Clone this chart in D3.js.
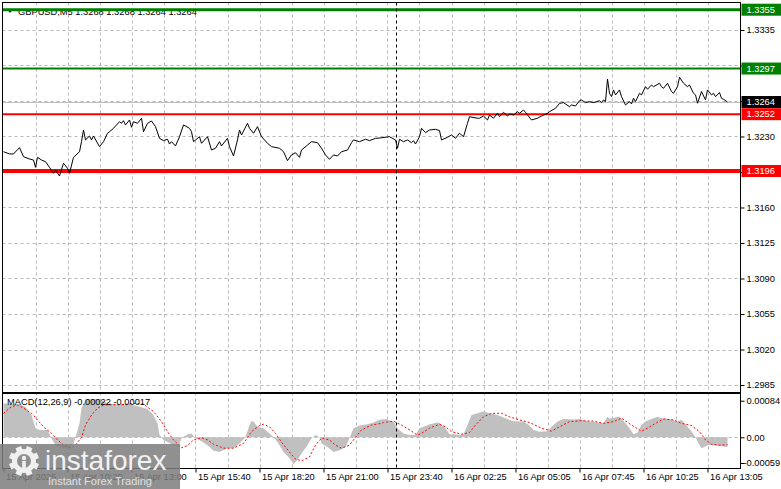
<!DOCTYPE html>
<html><head><meta charset="utf-8">
<script src="https://cdn.jsdelivr.net/npm/d3@7/dist/d3.min.js"></script>
<style>
body{margin:0;background:#fff;}
svg{display:block;}
text{font-family:"Liberation Sans",Arial,sans-serif;}
</style>
</head><body>
<svg id="c" width="781" height="489"></svg>
<script>
// ---------------- DATA ----------------
const symbolTitle = "GBPUSD,M5";
const ohlcValues = ["1.3268", "1.3268", "1.3264", "1.3264"];
const macdTitle = "MACD(12,26,9) -0.00022 -0.00017";

const priceTicks = [1.2985, 1.3020, 1.3055, 1.3090, 1.3125, 1.3160, 1.3195, 1.3230, 1.3265, 1.3300, 1.3335];
const macdTicks = [0.00084, 0.00, -0.00059];

const timeLabels = ["15 Apr 2025", "15 Apr 10:20", "15 Apr 13:00", "15 Apr 15:40", "15 Apr 18:20", "15 Apr 21:00",
  "15 Apr 23:40", "16 Apr 02:25", "16 Apr 05:05", "16 Apr 07:45", "16 Apr 10:25", "16 Apr 13:05"];
const timeLabelBars = [0, 32, 64, 96, 128, 160, 192, 224, 256, 288, 320, 352];
const daySeparatorBar = 196;

const greenLevels = [1.3355, 1.3297];
const redLevels = [1.3252, 1.3196];
const currentPrice = 1.3264;

const priceBars = [0,3,5,8,10,13,15,16,17,19,21,23,25,26,28,30,32,33,35,38,39,40,41,43,44,45,48,50,52,53,55,58,59,60,61,63,64,65,67,69,70,72,74,76,78,80,82,83,84,86,88,90,93,94,95,98,99,102,104,106,108,109,112,113,115,117,118,119,122,123,125,127,129,132,134,138,140,142,144,146,148,149,152,154,157,159,161,163,165,167,169,172,174,175,178,181,183,186,188,193,196,197,198,200,202,204,205,206,208,209,211,213,216,218,219,222,224,226,228,230,232,233,237,238,240,242,243,245,247,248,250,252,253,255,257,258,260,261,264,267,269,272,273,276,278,280,283,284,286,288,289,291,293,295,298,299,300,301,302,303,304,305,306,308,309,311,313,314,315,316,318,319,321,322,324,325,328,329,330,332,334,335,337,338,340,342,343,345,346,347,349,351,352,354,355,356,358,359,360,362];
const priceValues = [1.32150,1.32128,1.32128,1.32190,1.32101,1.32078,1.32068,1.31996,1.32095,1.32068,1.32052,1.31996,1.31937,1.31970,1.31911,1.32036,1.31987,1.31937,1.32095,1.32150,1.32249,1.32364,1.32266,1.32305,1.32266,1.32305,1.32200,1.32249,1.32332,1.32347,1.32381,1.32446,1.32430,1.32456,1.32414,1.32463,1.32391,1.32446,1.32430,1.32480,1.32347,1.32430,1.32453,1.32397,1.32282,1.32259,1.32273,1.32226,1.32249,1.32207,1.32298,1.32414,1.32381,1.32347,1.32249,1.32298,1.32233,1.32298,1.32167,1.32184,1.32249,1.32207,1.32282,1.32200,1.32108,1.32266,1.32364,1.32315,1.32430,1.32381,1.32332,1.32397,1.32298,1.32233,1.32200,1.32184,1.32150,1.32062,1.32118,1.32140,1.32095,1.32167,1.32216,1.32249,1.32239,1.32184,1.32118,1.32075,1.32118,1.32108,1.32150,1.32167,1.32239,1.32266,1.32249,1.32273,1.32259,1.32282,1.32285,1.32298,1.32266,1.32184,1.32273,1.32249,1.32266,1.32239,1.32259,1.32226,1.32298,1.32381,1.32338,1.32364,1.32371,1.32358,1.32266,1.32292,1.32315,1.32282,1.32332,1.32298,1.32430,1.32495,1.32480,1.32480,1.32502,1.32463,1.32512,1.32480,1.32529,1.32495,1.32538,1.32502,1.32522,1.32512,1.32545,1.32529,1.32561,1.32538,1.32463,1.32480,1.32502,1.32529,1.32545,1.32578,1.32627,1.32634,1.32594,1.32611,1.32601,1.32653,1.32660,1.32634,1.32644,1.32634,1.32653,1.32634,1.32660,1.32644,1.32867,1.32726,1.32693,1.32759,1.32710,1.32759,1.32693,1.32611,1.32644,1.32621,1.32677,1.32644,1.32726,1.32710,1.32791,1.32766,1.32808,1.32791,1.32825,1.32791,1.32775,1.32825,1.32743,1.32726,1.32791,1.32884,1.32825,1.32791,1.32808,1.32726,1.32710,1.32628,1.32743,1.32660,1.32759,1.32710,1.32726,1.32693,1.32733,1.32677,1.32667,1.32640];

const macdBars = [0,4,8,11,14,16,18,22,24,26,30,32,35,36,38,39,41,43,48,52,58,63,68,72,75,77,78,80,85,88,89,92,94,96,98,102,105,108,112,115,118,121,123,124,125,127,130,133,135,137,140,143,145,147,149,152,154,156,158,159,162,165,168,171,173,175,178,182,185,188,191,195,197,200,203,206,208,211,213,217,218,221,223,225,228,230,232,234,237,240,243,247,252,255,260,263,265,268,272,274,277,280,285,288,292,297,300,302,303,305,308,311,313,315,317,319,321,323,327,329,333,337,339,342,344,346,348,349,352,355,358,362];
const macdValues = [0.00078,0.00076,0.00076,0.00070,0.00051,0.00021,0.00017,0.00017,-0.00002,-0.00018,-0.00025,-0.00026,-0.00016,0.0,0.00032,0.00067,0.00086,0.00088,0.00088,0.00078,0.00074,0.00076,0.00070,0.00065,0.00051,0.00032,0.00005,-0.00006,-0.00018,-0.00015,-0.00003,0.00007,0.00009,-0.00002,-0.00006,-0.00018,-0.00031,-0.00034,-0.00025,-0.00025,-0.00014,0.0,0.00028,0.00037,0.00036,0.00024,0.00021,0.00009,0.0,-0.00011,-0.00034,-0.00048,-0.00062,-0.00052,-0.00037,-0.00018,-0.00002,0.00005,0.0,-0.00014,-0.00022,-0.00034,-0.00030,-0.00022,-0.00002,0.00021,0.00027,0.00030,0.00034,0.00040,0.00042,0.00036,0.00021,0.00009,0.00005,0.00005,0.00021,0.00026,0.00030,0.00034,0.00033,0.00021,0.00007,0.00007,0.00005,0.00007,0.00028,0.00051,0.00055,0.00059,0.00055,0.00051,0.00042,0.00037,0.00036,0.00027,0.00017,0.00013,0.00014,0.00024,0.00036,0.00042,0.00041,0.00042,0.00037,0.00034,0.00032,0.00047,0.00043,0.00045,0.00047,0.00032,0.00021,0.00007,0.00011,0.00028,0.00036,0.00040,0.00047,0.00044,0.00042,0.00036,0.00040,0.00024,0.00014,0.0,-0.00018,-0.00025,-0.00018,-0.00018,-0.00020,-0.00022];

const signalBars = [0,4,7,10,14,17,20,24,27,30,34,36,39,41,44,47,50,55,60,65,70,75,79,82,85,89,92,95,99,102,105,110,115,120,124,128,130,133,136,139,143,146,149,153,156,159,163,166,169,173,176,179,184,189,190,195,199,203,207,209,213,218,221,224,229,233,236,240,244,249,253,258,263,269,274,278,283,289,295,300,305,309,314,319,322,326,330,335,339,344,348,351,354,358,362];
const signalValues = [0.00055,0.00070,0.00074,0.00067,0.00055,0.00040,0.00024,0.00009,-0.00006,-0.00018,-0.00025,-0.00018,0.0,0.00028,0.00051,0.00067,0.00074,0.00075,0.00075,0.00078,0.00076,0.00059,0.00036,0.00013,-0.00006,-0.00024,-0.00019,-0.00006,-0.00001,-0.00006,-0.00016,-0.00025,-0.00025,-0.00014,0.00013,0.00027,0.00030,0.00024,0.00009,-0.00011,-0.00034,-0.00050,-0.00054,-0.00045,-0.00018,-0.00002,-0.00006,-0.00018,-0.00025,-0.00018,0.0,0.00017,0.00028,0.00032,0.00034,0.00037,0.00028,0.00017,0.00005,0.00009,0.00021,0.00030,0.00024,0.00013,0.00007,0.00011,0.00028,0.00047,0.00055,0.00055,0.00047,0.00040,0.00034,0.00021,0.00014,0.00024,0.00036,0.00038,0.00037,0.00032,0.00036,0.00044,0.00028,0.00014,0.00021,0.00032,0.00042,0.00040,0.00032,0.00027,0.00013,-0.00006,-0.00016,-0.00018,-0.00017];

// ---------------- LAYOUT ----------------
const L = 2.5, R = 740.5, mainTop = 2.5, mainBottom = 392.5, macdTop = 393.5, macdBottom = 468.5;
const svg = d3.select("#c");
const FONT = "9.3px";

const x = d3.scaleLinear().domain([0, 368.5]).range([3.5, 740.5]);
const y = d3.scaleLinear().domain([1.29781, 1.33626]).range([392, 2]);
const ym = d3.scaleLinear().domain([-0.000705, 0.001017]).range([468, 393]);

svg.append("rect").attr("width", 781).attr("height", 489).attr("fill", "#fff");

const gridColor = "#b8b8b8";
const gridBars = d3.range(16, 368, 16);
svg.append("g").selectAll("line").data(gridBars).join("line")
  .attr("x1", d => Math.round(x(d)) + 0.5).attr("x2", d => Math.round(x(d)) + 0.5)
  .attr("y1", mainTop).attr("y2", macdBottom)
  .attr("stroke", gridColor).attr("stroke-dasharray", "3,3");
svg.append("g").selectAll("line").data(priceTicks).join("line")
  .attr("x1", L).attr("x2", R)
  .attr("y1", d => Math.round(y(d)) + 0.5).attr("y2", d => Math.round(y(d)) + 0.5)
  .attr("stroke", gridColor).attr("stroke-dasharray", "3,3");
svg.append("line").attr("x1", L).attr("x2", R)
  .attr("y1", Math.round(ym(0)) + 0.5).attr("y2", Math.round(ym(0)) + 0.5)
  .attr("stroke", gridColor).attr("stroke-dasharray", "3,3");

// header text (partly under the green level line)
svg.append("path").attr("d", "M7,9 L13,9 L10,13 Z").attr("fill", "#000");
svg.append("text").attr("x", 18).attr("y", 15).attr("font-size", FONT).attr("fill", "#000")
  .text(symbolTitle + "  " + ohlcValues.join(" "));

// MACD histogram
const macdData = macdBars.map((b, i) => [b, macdValues[i]]);
svg.append("path").datum(macdData)
  .attr("d", d3.area().x(d => x(d[0])).y0(ym(0)).y1(d => ym(d[1])))
  .attr("fill", "#c0c0c0");
// Signal
const sigData = signalBars.map((b, i) => [b, signalValues[i]]);
svg.append("path").datum(sigData)
  .attr("d", d3.line().x(d => x(d[0])).y(d => ym(d[1])))
  .attr("fill", "none").attr("stroke", "#ff0000").attr("stroke-width", 1).attr("stroke-dasharray", "2,2");

// current price line
svg.append("line").attr("x1", L).attr("x2", R)
  .attr("y1", Math.round(y(currentPrice)) + 0.5).attr("y2", Math.round(y(currentPrice)) + 0.5)
  .attr("stroke", "#c0c0c0");

// level lines
const greenW = [3, 2], redW = [2, 4];
greenLevels.forEach((v, i) => svg.append("line").attr("x1", L).attr("x2", R)
  .attr("y1", y(v)).attr("y2", y(v)).attr("stroke", "#008000").attr("stroke-width", greenW[i]));
redLevels.forEach((v, i) => svg.append("line").attr("x1", L).attr("x2", R)
  .attr("y1", y(v)).attr("y2", y(v)).attr("stroke", "#ff0000").attr("stroke-width", redW[i]));

// price line
const priceData = priceBars.map((b, i) => [b, priceValues[i]]);
svg.append("path").datum(priceData)
  .attr("d", d3.line().x(d => x(d[0])).y(d => y(d[1])))
  .attr("fill", "none").attr("stroke", "#000").attr("stroke-width", 1);

// day separator
svg.append("line").attr("x1", Math.round(x(daySeparatorBar)) + 0.5).attr("x2", Math.round(x(daySeparatorBar)) + 0.5)
  .attr("y1", mainTop).attr("y2", macdBottom)
  .attr("stroke", "#000").attr("stroke-dasharray", "3,3");

// borders
svg.append("rect").attr("x", L).attr("y", mainTop).attr("width", R - L).attr("height", mainBottom - mainTop)
  .attr("fill", "none").attr("stroke", "#000");
svg.append("rect").attr("x", L).attr("y", macdTop).attr("width", R - L).attr("height", macdBottom - macdTop)
  .attr("fill", "none").attr("stroke", "#000");

// right axis (main) - labels hidden where a level box covers them
const boxedValues = greenLevels.concat(redLevels, [currentPrice]);
const covered = d => boxedValues.some(v => Math.abs(y(v) - y(d)) < 9);
const ax = svg.append("g").attr("transform", `translate(${R},0)`)
  .call(d3.axisRight(y).tickValues(priceTicks).tickSize(4).tickPadding(2)
    .tickFormat(d => covered(d) ? "" : d3.format(".4f")(d)));
ax.select(".domain").remove();
ax.selectAll("text").attr("font-size", FONT).attr("font-family", "Liberation Sans, Arial, sans-serif").attr("fill", "#000");
ax.selectAll("line").attr("stroke", "#000");

// right axis (macd)
const axm = svg.append("g").attr("transform", `translate(${R},0)`)
  .call(d3.axisRight(ym).tickValues(macdTicks).tickSize(4).tickPadding(2)
    .tickFormat(d => d === 0 ? "0.00" : d.toFixed(5)));
axm.select(".domain").remove();
axm.selectAll("text").attr("font-size", FONT).attr("font-family", "Liberation Sans, Arial, sans-serif").attr("fill", "#000")
  .attr("dx", d => d < 0 ? -3 : 0);
axm.selectAll("line").attr("stroke", "#000");

// level label boxes
function levelBox(v, fill) {
  const g = svg.append("g");
  const cy = y(v);
  g.append("rect").attr("x", R + 1).attr("y", cy - 6).attr("width", 781 - R).attr("height", 12).attr("fill", fill);
  g.append("text").attr("x", R + 6).attr("y", cy).attr("dy", "0.35em").attr("font-size", FONT)
    .attr("fill", "#fff").text(d3.format(".4f")(v));
}
greenLevels.forEach(v => levelBox(v, "#008000"));
levelBox(currentPrice, "#000");
redLevels.forEach(v => levelBox(v, "#ff0000"));

// bottom axis
const bx = svg.append("g").attr("transform", `translate(0,${macdBottom})`)
  .call(d3.axisBottom(x).tickValues(timeLabelBars).tickSize(4).tickFormat((d, i) => timeLabels[i]));
bx.select(".domain").remove();
bx.selectAll("line").attr("stroke", "#000");
bx.selectAll("text").attr("font-size", FONT).attr("font-family", "Liberation Sans, Arial, sans-serif")
  .attr("fill", "#000").attr("text-anchor", "start").attr("dx", 2).attr("y", 5).attr("dy", "0.71em");

// MACD title
svg.append("text").attr("x", 7).attr("y", 405).attr("font-size", FONT).attr("fill", "#000").text(macdTitle);

// instaforex logo overlay
const logo = svg.append("g");
logo.append("rect").attr("x", 0).attr("y", 444).attr("width", 180).attr("height", 45)
  .attr("fill", "#7c7c7c").attr("opacity", 0.85);
const gc = [24, 461];
const teeth = d3.range(8);
logo.append("g").selectAll("rect").data(teeth).join("rect")
  .attr("x", gc[0] - 3).attr("y", gc[1] - 15).attr("width", 6).attr("height", 7)
  .attr("transform", d => `rotate(${d * 45 + 22.5},${gc[0]},${gc[1]})`).attr("fill", "#f0f0f0");
logo.append("circle").attr("cx", gc[0]).attr("cy", gc[1]).attr("r", 9.5)
  .attr("fill", "none").attr("stroke", "#f0f0f0").attr("stroke-width", 5);
logo.append("circle").attr("cx", gc[0]).attr("cy", gc[1] - 3).attr("r", 2.2).attr("fill", "#f0f0f0");
logo.append("rect").attr("x", gc[0] - 1.8).attr("y", gc[1]).attr("width", 3.6).attr("height", 7).attr("fill", "#f0f0f0");
logo.append("text").attr("x", 45).attr("y", 470).attr("font-size", "28px")
  .attr("font-family", "Open Sans, sans-serif").attr("fill", "#f2f2f2").text("instaforex");
logo.append("text").attr("x", 48).attr("y", 485).attr("font-size", "11px")
  .attr("font-family", "Open Sans, sans-serif").attr("fill", "#e0e0e0").text("Instant Forex Trading");
</script>
</body></html>
